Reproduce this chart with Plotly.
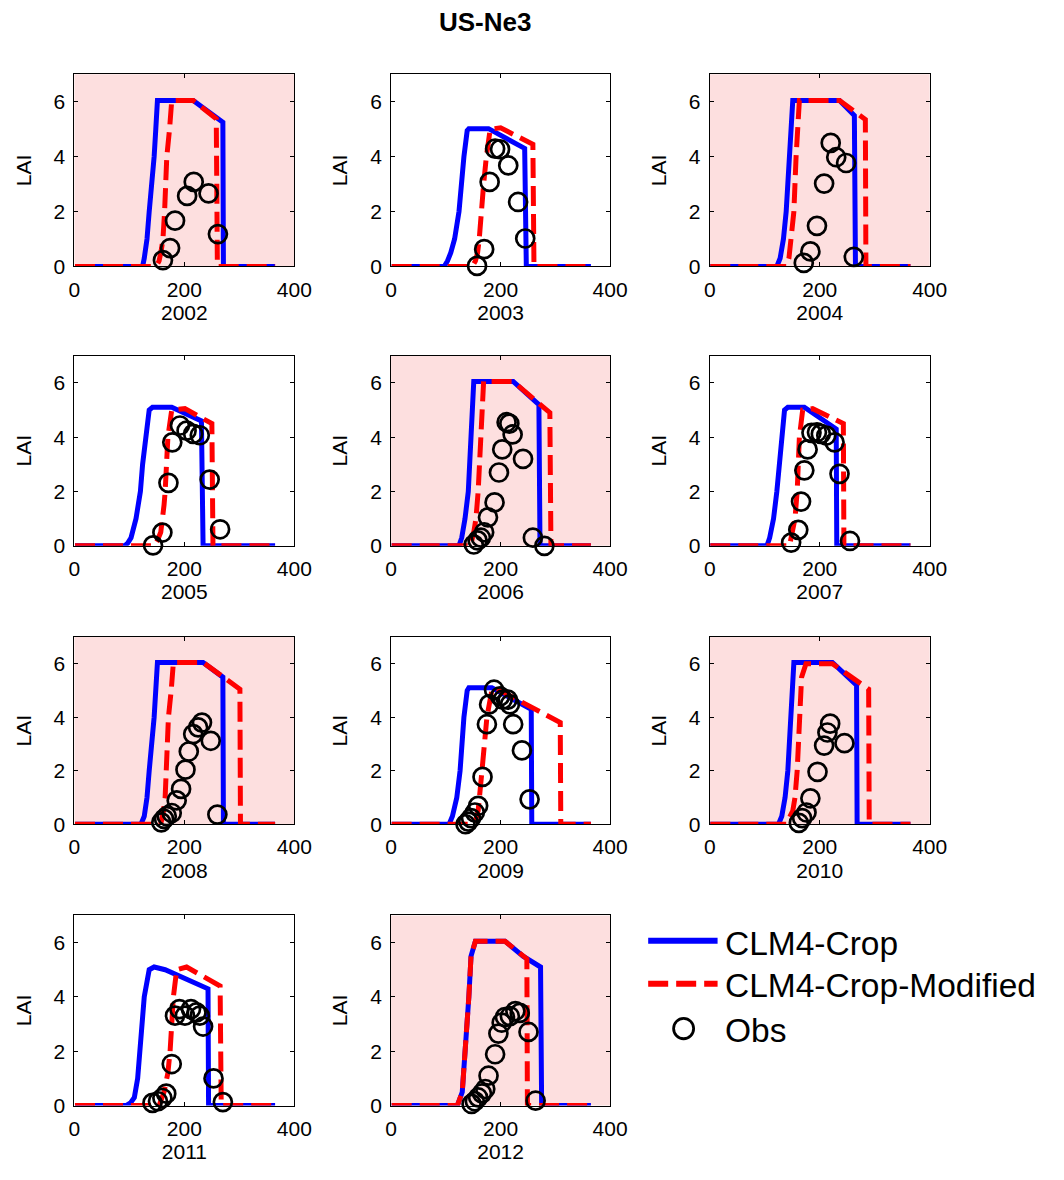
import plotly.graph_objects as go

# ---- LAI data (day of year, LAI) for site US-Ne3 ----
years = [2002, 2003, 2004, 2005, 2006, 2007, 2008, 2009, 2010, 2011, 2012]
corn_years = [2002, 2004, 2006, 2008, 2010, 2012]

# CLM4-Crop simulated LAI
crop_2002 = ([1, 124, 127, 132, 136, 141, 145, 148, 151, 216, 270, 271, 365],
             [0, 0, 0.3, 1, 2, 3, 4, 5, 6.05, 6.05, 5.25, 0, 0])
crop_2003 = ([1, 97, 103, 109, 116, 124, 133, 139, 142, 178, 244, 247, 365],
             [0, 0, 0.2, 0.5, 1, 2, 4, 4.95, 5.02, 5.02, 4.3, 0, 0])
crop_2004 = ([1, 122, 128, 134, 139, 145, 151, 236, 263, 265, 365],
             [0, 0, 0.3, 1, 2, 4, 6.05, 6.05, 5.5, 0, 0])
crop_2005 = ([1, 91, 97, 103, 112, 120, 124, 129, 136, 142, 177, 231, 234, 365],
             [0, 0, 0.1, 0.3, 1, 2, 3, 4, 5, 5.1, 5.1, 4.6, 0, 0])
crop_2006 = ([1, 124, 129, 135, 141, 145, 151, 223, 270, 272, 365],
             [0, 0, 0.3, 1, 2, 4, 6.05, 6.05, 5.2, 0, 0])
crop_2007 = ([1, 104, 109, 116, 122, 126, 131, 136, 142, 172, 230, 231, 365],
             [0, 0, 0.3, 1, 2, 3, 4, 5, 5.1, 5.1, 4.3, 0, 0])
crop_2008 = ([1, 121, 127, 132, 136, 145, 151, 234, 270, 271, 365],
             [0, 0, 0.3, 1, 2, 4, 6.05, 6.05, 5.5, 0, 0])
crop_2009 = ([1, 106, 112, 120, 126, 133, 139, 142, 184, 256, 257, 365],
             [0, 0, 0.3, 1, 2, 4, 5, 5.1, 5.1, 4.3, 0, 0])
crop_2010 = ([1, 125, 131, 137, 142, 147, 153, 223, 267, 268, 365],
             [0, 0, 0.3, 1, 2, 4, 6.05, 6.05, 5.2, 0, 0])
crop_2011 = ([1, 94, 102, 109, 115, 119, 127, 136, 145, 165, 243, 244, 365],
             [0, 0, 0.1, 0.3, 1, 2, 4, 5, 5.1, 5.0, 4.3, 0, 0])
crop_2012 = ([1, 121, 130, 136, 142, 146, 154, 208, 241, 273, 275, 365],
             [0, 0, 0.5, 2, 4, 5.5, 6.05, 6.05, 5.5, 5.1, 0, 0])

# CLM4-Crop-Modified simulated LAI
mod_2002 = ([1, 139, 150, 154, 158, 161, 164, 168, 173, 177, 216, 258, 260, 365],
            [0, 0, 0.05, 0.2, 0.6, 1, 2, 4, 5, 6.05, 6.05, 5.38, 0, 0])
mod_2003 = ([1, 148, 154, 158, 161, 164, 169, 174, 181, 200, 259, 261, 365],
            [0, 0, 0.2, 0.5, 1, 2, 3, 4, 5, 5.05, 4.45, 0, 0])
mod_2004 = ([1, 139, 144, 147, 153, 157, 163, 236, 283, 284, 365],
            [0, 0, 0.3, 1, 2, 4, 6.05, 6.05, 5.35, 0, 0])
mod_2005 = ([1, 145, 151, 157, 163, 165, 170, 177, 201, 250, 252, 365],
            [0, 0, 0.2, 0.5, 1.5, 2, 4, 5, 5.05, 4.5, 0, 0])
mod_2006 = ([1, 145, 151, 155, 159, 163, 169, 223, 290, 292, 365],
            [0, 0, 0.5, 1, 2, 4, 6.05, 6.05, 4.9, 0, 0])
mod_2007 = ([1, 145, 150, 155, 159, 163, 169, 187, 243, 244, 365],
            [0, 0, 0.5, 1, 2, 4, 5, 5.05, 4.5, 0, 0])
mod_2008 = ([1, 157, 162, 165, 167, 171, 176, 180, 234, 301, 302, 365],
            [0, 0, 0.5, 1, 2, 4, 5, 6.05, 6.05, 5.05, 0, 0])
mod_2009 = ([1, 151, 155, 159, 166, 175, 184, 190, 309, 310, 365],
            [0, 0, 0.2, 0.5, 2, 4, 5, 5.1, 3.8, 0, 0])
mod_2010 = ([1, 139, 151, 155, 159, 163, 167, 175, 223, 289, 290, 365],
            [0, 0, 0.5, 1, 2, 4, 5.5, 6.0, 6.0, 5.05, 0, 0])
mod_2011 = ([1, 154, 163, 170, 174, 180, 186, 204, 265, 267, 365],
            [0, 0, 0.5, 1.2, 2, 4, 5, 5.1, 4.4, 0, 0])
mod_2012 = ([1, 121, 130, 136, 142, 146, 154, 208, 241, 248, 249, 365],
            [0, 0, 0.5, 2, 4, 5.5, 6.05, 6.05, 5.5, 5.4, 0, 0])

# Observed LAI
obs_2002 = ([161, 174, 183, 205, 217, 244, 261],
            [0.23, 0.67, 1.67, 2.57, 3.08, 2.66, 1.18])
obs_2003 = ([157, 170, 180, 190, 199, 214, 232, 245],
            [0.02, 0.63, 3.08, 4.29, 4.27, 3.68, 2.35, 1.02])
obs_2004 = ([171, 183, 195, 208, 220, 230, 248, 262],
            [0.13, 0.55, 1.48, 3.02, 4.5, 3.98, 3.77, 0.35])
obs_2005 = ([143, 160, 171, 178, 192, 204, 216, 228, 246, 265],
            [0.02, 0.49, 2.32, 3.81, 4.43, 4.24, 4.12, 4.07, 2.44, 0.61])
obs_2006 = ([151, 158, 164, 170, 177, 189, 197, 203, 211, 216, 222, 241, 259, 280],
            [0.05, 0.2, 0.3, 0.5, 1.05, 1.6, 2.7, 3.55, 4.55, 4.5, 4.1, 3.2, 0.3, 0.0])
obs_2007 = ([148, 161, 166, 172, 178, 185, 195, 202, 212, 227, 236, 255],
            [0.12, 0.59, 1.63, 2.78, 3.55, 4.16, 4.18, 4.12, 4.06, 3.81, 2.65, 0.18])
obs_2008 = ([158, 163, 168, 177, 186, 194, 202, 208, 216, 225, 232, 248, 260],
            [0.07, 0.2, 0.3, 0.42, 0.89, 1.32, 2.04, 2.72, 3.37, 3.62, 3.8, 3.12, 0.36])
obs_2009 = ([136, 141, 146, 153, 159, 167, 175, 179, 188, 199, 204, 213, 217, 223, 239, 253],
            [0.0, 0.1, 0.23, 0.44, 0.69, 1.77, 3.74, 4.48, 5.03, 4.78, 4.66, 4.66, 4.48, 3.74, 2.76, 0.93])
obs_2010 = ([162, 168, 176, 183, 196, 208, 214, 219, 245],
            [0.05, 0.23, 0.44, 0.97, 1.96, 2.94, 3.43, 3.76, 3.03])
obs_2011 = ([142, 152, 160, 167, 177, 183, 191, 201, 212, 222, 228, 234, 253, 270],
            [0.1, 0.16, 0.28, 0.44, 1.53, 3.31, 3.55, 3.31, 3.55, 3.43, 3.31, 2.91, 1.0, 0.13])
obs_2012 = ([147, 153, 159, 166, 172, 178, 190, 196, 202, 208, 217, 227, 235, 251, 264],
            [0.06, 0.16, 0.3, 0.45, 0.61, 1.1, 1.89, 2.65, 3.05, 3.26, 3.29, 3.48, 3.41, 2.71, 0.18])

crop_series = [crop_2002, crop_2003, crop_2004, crop_2005, crop_2006, crop_2007,
               crop_2008, crop_2009, crop_2010, crop_2011, crop_2012]
mod_series = [mod_2002, mod_2003, mod_2004, mod_2005, mod_2006, mod_2007,
              mod_2008, mod_2009, mod_2010, mod_2011, mod_2012]
obs_series = [obs_2002, obs_2003, obs_2004, obs_2005, obs_2006, obs_2007,
              obs_2008, obs_2009, obs_2010, obs_2011, obs_2012]

x_ticks = [0, 200, 400]
y_ticks = [0, 2, 4, 6]

# ---- layout geometry (pixels) ----
W, H = 1064, 1180
col_px = [(70, 295), (394, 618), (720, 945)]
row_px = [(75, 269), (359, 551), (643, 832), (924, 1116)]

FONT = "Liberation Sans, Arial, sans-serif"
BLUE = "#0000FF"
RED = "#FF0000"
PINK = "#FDDFDF"

fig = go.Figure()
layout = dict(
    width=W, height=H,
    margin=dict(l=0, r=0, t=0, b=0),
    paper_bgcolor="white", plot_bgcolor="white",
    showlegend=False,
    font=dict(family=FONT, size=21, color="black"),
)
shapes = []
annotations = []

for i, yr in enumerate(years):
    r, c = divmod(i, 3)
    n = "" if i == 0 else str(i + 1)
    xa, ya = "x" + n, "y" + n
    (xl, xr), (yt, yb) = col_px[c], row_px[r]

    axis_common = dict(
        showline=True, linecolor="black", linewidth=1, mirror="ticks",
        ticks="inside", ticklen=4, tickcolor="black", tickwidth=1,
        showgrid=False, zeroline=False,
        tickfont=dict(family=FONT, size=21, color="black"),
    )
    layout["xaxis" + n] = dict(
        axis_common, domain=[xl / W, xr / W], anchor=ya,
        range=[0, 400], tickvals=x_ticks, ticklabelstandoff=4,
        title=dict(text=str(yr), font=dict(family=FONT, size=21), standoff=5),
    )
    layout["yaxis" + n] = dict(
        axis_common, domain=[1 - yb / H, 1 - yt / H], anchor=xa,
        range=[0, 7], tickvals=y_ticks, ticklabelstandoff=4,
        title=dict(text="LAI", font=dict(family=FONT, size=21), standoff=16),
    )

    if yr in corn_years:
        shapes.append(dict(type="rect", xref=xa + " domain", yref=ya + " domain",
                           x0=0, x1=1, y0=0, y1=1, fillcolor=PINK,
                           line=dict(width=0), layer="below"))

    cx, cy = crop_series[i]
    mx, my = mod_series[i]
    ox, oy = obs_series[i]
    fig.add_trace(go.Scatter(x=cx, y=cy, mode="lines", name="CLM4-Crop",
                             line=dict(color=BLUE, width=5),
                             xaxis=xa, yaxis=ya))
    fig.add_trace(go.Scatter(x=mx, y=my, mode="lines", name="CLM4-Crop-Modified",
                             line=dict(color=RED, width=5, dash="20px,8px"),
                             xaxis=xa, yaxis=ya))
    fig.add_trace(go.Scatter(x=ox, y=oy, mode="markers", name="Obs",
                             marker=dict(symbol="circle-open", size=18,
                                         color="black", line=dict(width=2.7, color="black")),
                             cliponaxis=False, xaxis=xa, yaxis=ya))

# ---- figure title ----
annotations.append(dict(text="<b>US-Ne3</b>", x=490 / W, y=1 - 22 / H,
                        xref="paper", yref="paper", showarrow=False,
                        xanchor="center", yanchor="middle",
                        font=dict(family=FONT, size=26, color="black")))

# ---- legend ----
leg_x0, leg_x1, text_x = 657, 728, 734
leg_rows = [("CLM4-Crop", 952), ("CLM4-Crop-Modified", 995), ("Obs", 1040)]
shapes.append(dict(type="line", xref="paper", yref="paper",
                   x0=leg_x0 / W, x1=leg_x1 / W, y0=1 - 949.5 / H, y1=1 - 949.5 / H,
                   line=dict(color=BLUE, width=6)))
shapes.append(dict(type="line", xref="paper", yref="paper",
                   x0=leg_x0 / W, x1=leg_x1 / W, y0=1 - 993 / H, y1=1 - 993 / H,
                   line=dict(color=RED, width=6, dash="20px,8px")))
shapes.append(dict(type="circle", xref="paper", yref="paper",
                   x0=683 / W, x1=703.5 / W, y0=1 - 1048.5 / H, y1=1 - 1028 / H,
                   line=dict(color="black", width=2.8)))
for label, py in leg_rows:
    annotations.append(dict(text=label, x=text_x / W, y=1 - py / H,
                            xref="paper", yref="paper", showarrow=False,
                            xanchor="left", yanchor="middle",
                            font=dict(family=FONT, size=33.5, color="black")))

layout["shapes"] = shapes
layout["annotations"] = annotations
fig.update_layout(layout)
fig.write_html("out.html")
